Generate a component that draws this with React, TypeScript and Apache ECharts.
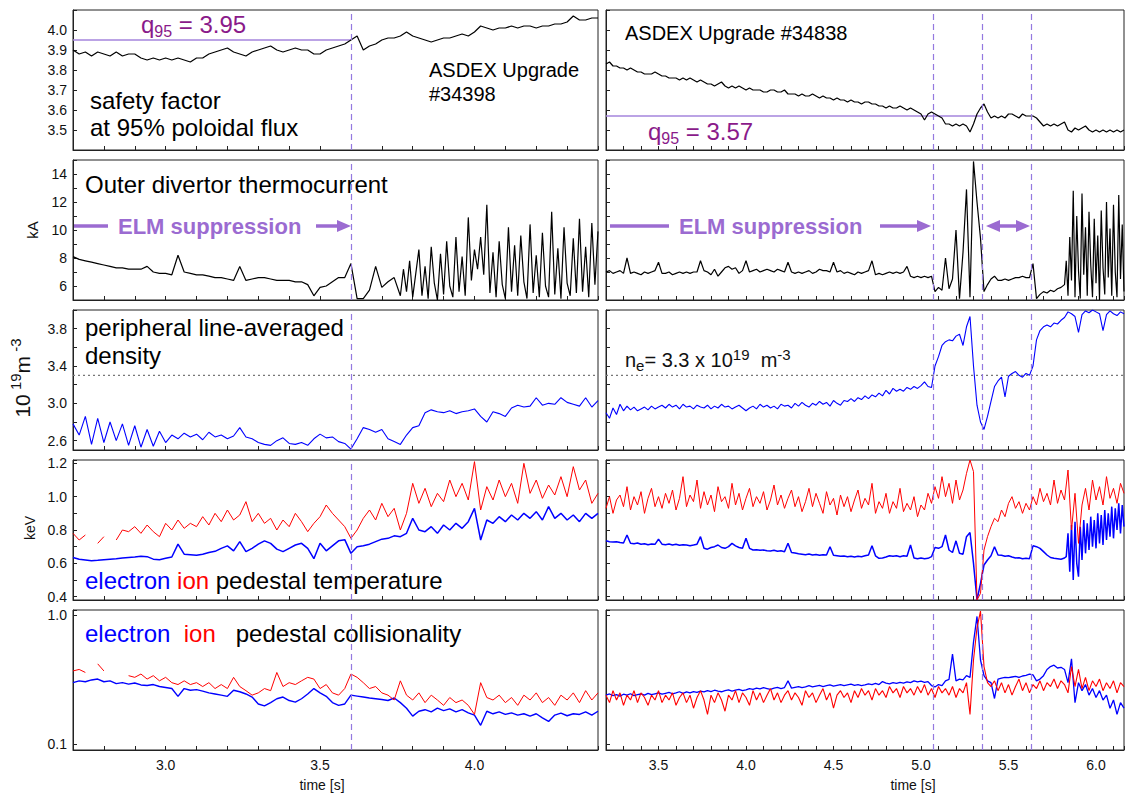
import { useEffect, useRef } from "react";
import * as echarts from "echarts";

// ---------- sampling grids (s) ----------
const T_L0 = 2.7;
const T_R0 = 3.2;
const DT = 0.02;
const DT_FINE = 0.01;
const T_ELM_L0 = 3.76; // start of dense (ELMy) sampling, left
const T_ELM_R0 = 5.83; // start of dense (ELMy) sampling, right
const X_RANGE_L = [2.7, 4.4];
const X_RANGE_R = [3.2, 6.16];
const VLINES_L = [3.6];
const VLINES_R = [5.065, 5.35, 5.63];

// ---------- row 1: q95 ----------
const q95L = [
  3.90, 3.88, 3.89, 3.87, 3.89, 3.88, 3.87, 3.89, 3.87, 3.88,
  3.88, 3.86, 3.85, 3.86, 3.85, 3.86, 3.85, 3.86, 3.85, 3.84,
  3.86, 3.86, 3.88, 3.89, 3.90, 3.91, 3.89, 3.88, 3.87, 3.89,
  3.90, 3.91, 3.92, 3.90, 3.89, 3.90, 3.91, 3.90, 3.90, 3.88,
  3.88, 3.90, 3.91, 3.92, 3.93, 3.95, 3.97, 3.90, 3.92, 3.93,
  3.95, 3.96, 3.96, 3.97, 3.99, 3.97, 3.96, 3.95, 3.94, 3.95,
  3.96, 3.96, 3.97, 3.98, 3.97, 3.99, 4.02, 4.01, 4.00, 4.01,
  4.01, 4.02, 4.01, 4.02, 4.02, 4.01, 4.02, 4.02, 4.03, 4.03,
  4.04, 4.07, 4.05, 4.05, 4.06, 4.06,
];
const q95R = [
  3.83, 3.84, 3.82, 3.82, 3.81, 3.81, 3.80, 3.81, 3.80, 3.79,
  3.79, 3.78, 3.78, 3.78, 3.79, 3.78, 3.77, 3.77, 3.76, 3.76,
  3.76, 3.75, 3.76, 3.75, 3.76, 3.75, 3.74, 3.75, 3.74, 3.73,
  3.73, 3.72, 3.73, 3.74, 3.72, 3.71, 3.72, 3.71, 3.72, 3.71,
  3.70, 3.71, 3.70, 3.70, 3.70, 3.69, 3.69, 3.70, 3.70, 3.69,
  3.69, 3.70, 3.68, 3.68, 3.68, 3.67, 3.68, 3.67, 3.67, 3.68,
  3.67, 3.66, 3.67, 3.66, 3.66, 3.65, 3.66, 3.65, 3.65, 3.64,
  3.65, 3.64, 3.64, 3.63, 3.64, 3.64, 3.63, 3.63, 3.62, 3.62,
  3.61, 3.62, 3.61, 3.61, 3.62, 3.61, 3.60, 3.61, 3.60, 3.59,
  3.58, 3.55, 3.58, 3.59, 3.58, 3.57, 3.56, 3.53, 3.53, 3.52,
  3.53, 3.52, 3.53, 3.52, 3.49, 3.53, 3.58, 3.61, 3.63, 3.59,
  3.56, 3.57, 3.56, 3.57, 3.56, 3.58, 3.58, 3.57, 3.56, 3.58,
  3.57, 3.57, 3.57, 3.56, 3.54, 3.52, 3.53, 3.52, 3.53, 3.52,
  3.53, 3.54, 3.50, 3.49, 3.51, 3.50, 3.51, 3.52, 3.50, 3.49,
  3.50, 3.49, 3.50, 3.49, 3.50, 3.49, 3.50, 3.49, 3.50,
];
const Q95_LEVEL_L = 3.95;
const Q95_LEVEL_R = 3.57;
const Q95_END_L = 3.6;
const Q95_END_R = 5.35;

// ---------- row 2: outer divertor thermocurrent (kA) ----------
// left: 2.70..3.74 every 0.02, then 3.76..4.40 every 0.01
const itL = [
  8.1, 7.9, 7.8, 7.7, 7.6, 7.5, 7.4, 7.3, 7.3, 7.2,
  7.2, 7.2, 7.4, 7.0, 6.9, 6.9, 6.8, 8.2, 7.0, 6.9,
  6.8, 6.8, 6.7, 6.6, 6.6, 6.5, 6.4, 7.4, 6.4, 6.5,
  6.6, 6.6, 6.5, 6.4, 6.4, 6.4, 6.3, 6.3, 6.1, 5.3,
  5.9, 6.0, 6.3, 6.6, 6.6, 7.6, 5.1, 5.1, 5.7, 7.4,
  5.9, 6.3, 6.6,
];
const itLElm = [
  5.3, 7.2, 5.6, 7.8, 5.2, 6.9, 8.6, 5.3, 7.4, 5.1,
  8.8, 6.2, 5.0, 8.3, 5.4, 9.2, 6.0, 5.2, 9.5, 5.6,
  8.1, 5.3, 10.9, 6.4, 8.6, 7.2, 9.5, 6.8, 11.8, 5.5,
  8.4, 5.2, 9.2, 6.1, 5.1, 10.2, 5.6, 8.9, 5.3, 9.6,
  6.3, 5.1, 10.4, 5.5, 8.2, 5.2, 9.8, 6.0, 5.2, 11.3,
  5.4, 8.7, 5.1, 10.2, 6.2, 5.3, 9.4, 5.5, 10.8, 5.6,
  8.8, 5.2, 10.5, 6.1, 9.9,
];
// right: 3.20..5.82 every 0.02, then 5.83..6.16 every 0.01
const itR = [
  7.0, 7.1, 6.9, 7.0, 7.1, 6.9, 8.0, 6.9, 7.0, 6.9,
  6.8, 7.0, 6.9, 7.0, 7.1, 7.7, 6.9, 6.9, 7.0, 6.8,
  6.9, 7.0, 6.9, 7.0, 6.9, 7.0, 7.0, 7.8, 7.1, 7.0,
  6.8, 7.2, 6.7, 7.0, 7.3, 7.4, 7.2, 7.3, 6.9, 7.1,
  7.8, 7.0, 7.1, 7.2, 7.0, 7.1, 7.2, 7.1, 7.0, 7.2,
  7.1, 7.0, 7.7, 7.0, 6.9, 7.0, 6.9, 7.0, 7.1, 6.9,
  7.0, 7.2, 7.1, 7.1, 7.0, 7.7, 7.0, 7.1, 6.9, 7.0,
  6.9, 6.8, 7.0, 6.9, 7.0, 7.1, 7.8, 6.8, 6.9, 6.8,
  6.9, 7.0, 6.9, 7.0, 6.9, 7.0, 7.4, 6.7, 6.6, 6.7,
  6.6, 6.7, 6.6, 6.7, 5.6, 5.9, 5.7, 8.0, 5.8, 6.5,
  10.0, 5.1, 8.4, 12.9, 5.2, 14.9, 12.0, 9.4, 5.6, 6.1,
  6.5, 6.7, 6.4, 6.4, 6.5, 6.4, 6.5, 6.6, 6.6, 6.7,
  6.6, 6.6, 7.6, 5.1, 5.4, 5.6, 5.5, 5.7, 5.6, 5.8,
  5.9, 6.1,
];
const itRElm = [
  7.8, 5.3, 9.5, 6.4, 12.8, 5.2, 11.0, 7.1, 5.1, 12.6,
  6.8, 10.2, 5.3, 11.3, 7.5, 5.2, 10.8, 6.2, 9.6, 5.0,
  11.4, 7.3, 5.4, 12.0, 6.6, 10.1, 5.3, 11.8, 7.0, 5.2,
  12.5, 6.5, 10.4, 5.6,
];

// ---------- row 3: peripheral line-averaged density (1e19 m^-3) ----------
const denL = [
  2.78, 2.66, 2.86, 2.56, 2.84, 2.58, 2.80, 2.60, 2.78, 2.55,
  2.76, 2.53, 2.72, 2.54, 2.70, 2.58, 2.66, 2.62, 2.68, 2.64,
  2.67, 2.61, 2.69, 2.64, 2.66, 2.62, 2.65, 2.74, 2.64, 2.62,
  2.58, 2.56, 2.55, 2.60, 2.63, 2.57, 2.56, 2.58, 2.55, 2.62,
  2.67, 2.63, 2.64, 2.59, 2.57, 2.51, 2.62, 2.74, 2.72, 2.69,
  2.72, 2.62, 2.59, 2.56, 2.66, 2.74, 2.76, 2.90, 2.93, 2.91,
  2.90, 2.92, 2.89, 2.91, 2.92, 2.94, 2.86, 2.80, 2.91, 2.89,
  2.86, 2.95, 2.98, 2.96, 2.97, 3.06, 2.98, 3.00, 2.99, 3.06,
  3.01, 2.99, 2.97, 3.06, 2.96, 3.03,
];
const denR = [
  2.90, 2.84, 2.95, 2.88, 2.99, 2.92, 2.97, 2.93, 2.96, 2.92,
  2.94, 2.96, 2.93, 2.97, 2.94, 2.96, 2.98, 2.95, 2.99, 2.96,
  2.98, 2.94, 2.99, 2.96, 2.97, 2.94, 2.98, 2.96, 2.95, 2.98,
  2.94, 2.97, 2.95, 2.99, 2.96, 2.97, 2.94, 2.96, 2.98, 2.95,
  2.92, 2.95, 2.97, 2.94, 2.99, 2.96, 2.98, 2.95, 2.97, 2.94,
  2.99, 2.97, 2.98, 2.95, 3.00, 2.97, 3.01, 2.98, 2.96, 3.00,
  2.98, 3.02, 2.99, 3.01, 2.97, 3.03, 3.00, 2.98, 3.03, 3.02,
  3.05, 3.02, 3.06, 3.04, 3.08, 3.05, 3.09, 3.07, 3.11, 3.08,
  3.14, 3.10, 3.16, 3.13, 3.15, 3.13, 3.17, 3.15, 3.18, 3.16,
  3.19, 3.23, 3.18, 3.17, 3.40, 3.50, 3.62, 3.66, 3.68, 3.67,
  3.72, 3.74, 3.62, 3.82, 3.93, 3.40, 2.98, 2.80, 2.72, 2.86,
  3.02, 3.18, 3.24, 3.28, 3.07, 3.29, 3.32, 3.34, 3.30, 3.28,
  3.32, 3.30, 3.40, 3.68, 3.78, 3.82, 3.84, 3.82, 3.86, 3.85,
  3.89, 3.92, 3.98, 3.96, 3.93, 3.76, 3.95, 3.99, 3.97, 4.00,
  3.98, 3.96, 3.78, 3.95, 3.99, 3.96, 3.94, 3.98, 3.96,
];
const NE_LEVEL = 3.3;

// ---------- row 4: pedestal temperature (keV) ----------
const teL = [
  0.635, 0.625, 0.62, 0.615, 0.618, 0.622, 0.625, 0.628, 0.632, 0.635,
  0.638, 0.642, 0.64, 0.625, 0.622, 0.63, 0.638, 0.715, 0.655, 0.652,
  0.648, 0.655, 0.665, 0.672, 0.69, 0.705, 0.675, 0.73, 0.67, 0.69,
  0.715, 0.735, 0.72, 0.685, 0.67, 0.69, 0.71, 0.72, 0.69, 0.628,
  0.72, 0.675, 0.705, 0.735, 0.742, 0.66, 0.70, 0.705, 0.715, 0.73,
  0.745, 0.75, 0.765, 0.76, 0.78, 0.87, 0.80, 0.79, 0.82, 0.78,
  0.83, 0.80, 0.84, 0.81, 0.85, 0.93, 0.74, 0.86, 0.84, 0.88,
  0.85, 0.89, 0.86, 0.90, 0.87, 0.91, 0.86, 0.94, 0.87, 0.90,
  0.86, 0.89, 0.85, 0.90, 0.87, 0.90,
];
const tiL = [
  0.78, 0.74, 0.77, null, 0.72, 0.76, null, 0.74, 0.80, 0.79,
  0.82, 0.78, 0.83, 0.79, 0.76, 0.84, 0.80, 0.86, 0.81, 0.84,
  0.82, 0.88, 0.83, 0.90, 0.85, 0.92, 0.86, 0.89, 0.97, 0.85,
  0.90, 0.84, 0.87, 0.80, 0.86, 0.82, 0.90, 0.85, 0.79, 0.84,
  0.88, 0.95, 0.90, 0.86, 0.82, 0.75, 0.80, 0.87, 0.92, 0.86,
  0.96, 0.88, 0.93, 0.80, 0.90, 1.08, 0.96, 1.05, 0.94, 1.02,
  0.97, 1.10, 1.00, 1.08, 0.98, 1.21, 0.92, 1.06, 0.98, 1.10,
  1.00, 1.08, 0.96, 1.20, 1.02, 1.10, 0.99, 1.07, 1.01, 1.12,
  1.00, 1.18, 1.04, 1.10, 0.96, 1.02,
];
// right electron: 3.20..5.82 every 0.02, then 5.83..6.16 every 0.01
const teR = [
  0.735, 0.73, 0.728, 0.73, 0.725, 0.722, 0.77, 0.72, 0.718, 0.722,
  0.715, 0.718, 0.712, 0.716, 0.714, 0.745, 0.715, 0.712, 0.716, 0.71,
  0.714, 0.708, 0.712, 0.71, 0.706, 0.71, 0.715, 0.76, 0.69, 0.685,
  0.695, 0.70, 0.71, 0.695, 0.69, 0.70, 0.72, 0.705, 0.695, 0.69,
  0.75, 0.69, 0.68, 0.682, 0.678, 0.68, 0.676, 0.674, 0.678, 0.672,
  0.675, 0.67, 0.72, 0.665, 0.662, 0.658, 0.655, 0.652, 0.656, 0.65,
  0.653, 0.648, 0.652, 0.65, 0.70, 0.648, 0.645, 0.642, 0.644, 0.64,
  0.643, 0.638, 0.642, 0.64, 0.645, 0.65, 0.705, 0.645, 0.63, 0.632,
  0.638, 0.645, 0.642, 0.646, 0.64, 0.645, 0.642, 0.71, 0.632, 0.628,
  0.632, 0.628, 0.63, 0.64, 0.695, 0.69, 0.70, 0.77, 0.68, 0.665,
  0.735, 0.66, 0.655, 0.76, 0.785, 0.60, 0.38, 0.48, 0.59, 0.62,
  0.645, 0.70, 0.65, 0.648, 0.642, 0.645, 0.638, 0.632, 0.634, 0.628,
  0.63, 0.628, 0.705, 0.70, 0.69, 0.67, 0.65, 0.635, 0.63, 0.628,
  0.625, 0.632,
];
const teRElm = [
  0.64, 0.78, 0.55, 0.83, 0.50, 0.85, 0.60, 0.52, 0.82, 0.62,
  0.86, 0.66, 0.84, 0.68, 0.88, 0.70, 0.86, 0.69, 0.90, 0.72,
  0.89, 0.71, 0.92, 0.74, 0.90, 0.76, 0.94, 0.75, 0.93, 0.80,
  0.96, 0.78, 0.95, 0.82,
];
const tiR = [
  0.93, 1.00, 0.90, 0.98, 1.01, 0.94, 1.06, 0.92, 1.00, 0.95,
  1.03, 0.90, 0.99, 1.05, 0.94, 1.00, 0.93, 1.02, 0.96, 1.04,
  0.92, 0.99, 1.12, 0.94, 1.01, 0.97, 1.10, 0.93, 1.03, 0.95,
  1.01, 0.91, 1.06, 0.97, 1.00, 0.93, 1.08, 0.95, 1.02, 0.92,
  0.99, 1.05, 0.94, 1.00, 0.96, 1.03, 0.92, 0.98, 1.07, 0.95,
  1.01, 0.93, 0.99, 1.04, 0.94, 1.00, 0.91, 0.97, 1.05, 0.94,
  1.02, 0.96, 0.90, 1.03, 0.95, 0.99, 0.89, 1.01, 0.94, 1.00,
  0.91, 0.98, 1.04, 0.93, 0.99, 0.95, 1.08, 0.90, 0.97, 0.93,
  1.02, 0.90, 0.97, 0.93, 1.05, 0.91, 0.96, 0.92, 1.00, 0.88,
  0.95, 0.92, 1.02, 0.96, 1.06, 0.99, 1.12, 1.00, 1.08, 0.96,
  1.10, 0.98, 1.04, 1.14, 1.22, 1.15, 0.38, 0.42, 0.68, 0.76,
  0.82, 0.87, 0.85, 0.92, 0.88, 0.96, 1.00, 0.93, 0.97, 0.90,
  0.96, 0.92, 1.00, 0.95, 1.05, 0.97, 1.02, 0.95, 1.10, 0.96,
  1.04, 0.98, 1.16, 0.80, 1.02, 0.72, 0.95, 1.05, 0.92, 1.10,
  0.98, 1.06, 0.95, 1.12, 0.99, 1.05, 0.96, 1.08, 1.02,
];

// ---------- row 5: pedestal collisionality ----------
const nueL = [
  0.30, 0.31, 0.305, 0.315, 0.32, 0.305, 0.31, 0.295, 0.30, 0.292,
  0.298, 0.288, 0.285, 0.29, 0.28, 0.275, 0.27, 0.235, 0.27, 0.262,
  0.265, 0.258, 0.25, 0.245, 0.24, 0.235, 0.262, 0.255, 0.245, 0.232,
  0.205, 0.198, 0.21, 0.225, 0.232, 0.218, 0.212, 0.225, 0.245, 0.27,
  0.25, 0.235, 0.21, 0.20, 0.205, 0.24, 0.236, 0.232, 0.228, 0.225,
  0.222, 0.218, 0.228, 0.21, 0.19, 0.165, 0.18, 0.185, 0.178, 0.19,
  0.182, 0.188, 0.178, 0.185, 0.175, 0.168, 0.14, 0.18, 0.172, 0.178,
  0.17, 0.175, 0.168, 0.172, 0.165, 0.172, 0.16, 0.15, 0.168, 0.174,
  0.166, 0.172, 0.17, 0.178, 0.168, 0.18,
];
const nuiL = [
  0.37, 0.38, 0.36, null, 0.42, 0.37, null, 0.35, null, 0.34,
  0.33, 0.35, 0.32, 0.34, 0.31, 0.33, 0.30, 0.29, 0.31, 0.29,
  0.30, 0.28, 0.30, 0.27, 0.29, 0.27, 0.33, 0.28, 0.26, 0.24,
  0.25, 0.27, 0.26, 0.36, 0.28, 0.30, 0.29, 0.31, 0.33, 0.32,
  0.27, 0.29, 0.25, 0.24, 0.27, 0.35, 0.33, 0.30, 0.27, 0.28,
  0.25, 0.24, 0.22, 0.31, 0.24, 0.22, 0.25, 0.21, 0.24, 0.22,
  0.20, 0.23, 0.21, 0.22, 0.20, 0.17, 0.30, 0.23, 0.22, 0.24,
  0.21, 0.23, 0.20, 0.24, 0.22, 0.25, 0.21, 0.23, 0.20, 0.24,
  0.22, 0.25, 0.21, 0.26, 0.22, 0.25,
];
const nueR = [
  0.24, 0.245, 0.238, 0.242, 0.236, 0.244, 0.24, 0.246, 0.238, 0.242,
  0.245, 0.24, 0.248, 0.242, 0.246, 0.25, 0.244, 0.248, 0.252, 0.246,
  0.25, 0.255, 0.248, 0.254, 0.25, 0.256, 0.252, 0.258, 0.254, 0.26,
  0.256, 0.262, 0.258, 0.255, 0.26, 0.264, 0.258, 0.262, 0.266, 0.26,
  0.264, 0.27, 0.266, 0.272, 0.268, 0.274, 0.27, 0.266, 0.272, 0.276,
  0.27, 0.275, 0.31, 0.272, 0.276, 0.28, 0.274, 0.278, 0.284, 0.278,
  0.282, 0.286, 0.28, 0.284, 0.288, 0.282, 0.286, 0.29, 0.284, 0.288,
  0.292, 0.286, 0.29, 0.285, 0.288, 0.294, 0.29, 0.296, 0.29, 0.306,
  0.298, 0.294, 0.30, 0.296, 0.302, 0.298, 0.304, 0.30, 0.31, 0.304,
  0.308, 0.302, 0.306, 0.285, 0.278, 0.29, 0.285, 0.31, 0.318, 0.50,
  0.31, 0.32, 0.315, 0.34, 0.33, 0.62, 0.98, 0.45, 0.34, 0.31,
  0.30, 0.226, 0.32, 0.325, 0.33, 0.328, 0.332, 0.336, 0.33, 0.338,
  0.342, 0.35, 0.345, 0.31, 0.32, 0.34, 0.38, 0.40, 0.41, 0.39,
  0.395, 0.38, 0.30, 0.46, 0.21, 0.30, 0.26, 0.29, 0.24, 0.27,
  0.23, 0.26, 0.22, 0.24, 0.19, 0.22, 0.17, 0.21, 0.19,
];
const nuiR = [
  0.24, 0.21, 0.26, 0.22, 0.25, 0.20, 0.24, 0.22, 0.26, 0.21,
  0.25, 0.23, 0.20, 0.24, 0.22, 0.26, 0.21, 0.24, 0.22, 0.25,
  0.20, 0.23, 0.25, 0.21, 0.24, 0.19, 0.23, 0.26, 0.22, 0.17,
  0.24, 0.21, 0.25, 0.22, 0.18, 0.24, 0.22, 0.26, 0.21, 0.25,
  0.23, 0.20, 0.26, 0.22, 0.25, 0.21, 0.24, 0.27, 0.22, 0.25,
  0.21, 0.24, 0.26, 0.22, 0.25, 0.23, 0.20, 0.26, 0.23, 0.25,
  0.21, 0.24, 0.27, 0.22, 0.25, 0.19, 0.24, 0.26, 0.23, 0.25,
  0.21, 0.26, 0.23, 0.27, 0.24, 0.26, 0.22, 0.27, 0.24, 0.26,
  0.23, 0.28, 0.25, 0.27, 0.23, 0.28, 0.25, 0.27, 0.24, 0.28,
  0.25, 0.29, 0.24, 0.27, 0.23, 0.28, 0.25, 0.27, 0.24, 0.28,
  0.23, 0.27, 0.25, 0.30, 0.17, 0.45, 0.80, 1.08, 0.40, 0.30,
  0.28, 0.31, 0.26, 0.30, 0.25, 0.29, 0.24, 0.28, 0.32, 0.26,
  0.30, 0.25, 0.29, 0.27, 0.31, 0.26, 0.30, 0.28, 0.32, 0.27,
  0.31, 0.29, 0.25, 0.40, 0.28, 0.38, 0.27, 0.33, 0.26, 0.31,
  0.28, 0.32, 0.26, 0.30, 0.27, 0.31, 0.25, 0.30, 0.28,
];

const times = (t0: number, dt: number, n: number) =>
  Array.from({ length: n }, (_, i) => Math.round((t0 + dt * i) * 1000) / 1000);
const tL = times(T_L0, DT, q95L.length);
const tR = times(T_R0, DT, q95R.length);
const pair = (t: number[], v: (number | null)[]) => t.map((x, i) => [x, v[i] == null ? null : v[i]]);
const split = (t0: number, a: number[], tf: number, b: number[]) =>
  pair(times(t0, DT, a.length), a).concat(pair(times(tf, DT_FINE, b.length), b));

const FONT = '"Liberation Sans", Arial, Helvetica, sans-serif';
const BLUE = "#0000ff";
const RED = "#ff0000";
const BLACK = "#000000";
const DASH_COLOR = "#9479e0";
const ELM_COLOR = "#9b6bd1";
const Q_COLOR = "#8a1a8a";
const QLINE_COLOR = "#a584dc";

const COLS = [
  { left: 73, width: 525, range: X_RANGE_L, vlines: VLINES_L },
  { left: 606, width: 518, range: X_RANGE_R, vlines: VLINES_R },
];
const ROW_TOP = [10, 160, 310, 460, 610];
const ROW_H = 140;

const near = (v: number, list: number[]) => list.some((x) => Math.abs(x - v) < 1e-4);

const Y_CFG: any[] = [
  { min: 3.4, max: 4.1, interval: 0.1, fmt: (v: number) => (v > 3.45 && v < 4.05 ? v.toFixed(1) : "") },
  { min: 5, max: 15, interval: 1, fmt: (v: number) => (near(v, [6, 8, 10, 12, 14]) ? String(Math.round(v)) : "") },
  { min: 2.5, max: 4.0, splitNumber: 7, fmt: (v: number) => (near(v, [2.6, 3.0, 3.4, 3.8]) ? v.toFixed(1) : "") },
  { min: 0.38, max: 1.22, splitNumber: 8, fmt: (v: number) => (near(v, [0.4, 0.6, 0.8, 1.0, 1.2]) ? v.toFixed(1) : "") },
  { type: "log", min: 0.09, max: 1.1, fmt: (v: number) => (near(v, [0.1]) ? "0.1" : near(v, [1]) ? "1.0" : "") },
];

function buildOption() {
  const grid: any[] = [];
  const xAxis: any[] = [];
  const yAxis: any[] = [];
  for (let r = 0; r < 5; r++) {
    for (let c = 0; c < 2; c++) {
      const g = r * 2 + c;
      const col = COLS[c];
      grid.push({
        left: col.left,
        top: ROW_TOP[r],
        width: col.width,
        height: ROW_H,
        show: true,
        borderColor: "#222",
        borderWidth: 1,
        backgroundColor: "transparent",
        containLabel: false,
        outerBoundsMode: "none",
      });
      xAxis.push({
        type: "value",
        gridIndex: g,
        min: col.range[0],
        max: col.range[1],
        interval: 0.1,
        axisLine: { show: true, onZero: false, lineStyle: { color: "#222", width: 1 } },
        axisTick: { show: true, inside: true, length: 4, lineStyle: { color: "#222" } },
        splitLine: { show: false },
        axisLabel: {
          show: r === 4,
          fontSize: 14,
          fontFamily: FONT,
          color: "#111",
          margin: 8,
          formatter: (v: number) => {
            const k = Math.round(v * 10);
            return Math.abs(v * 10 - k) < 1e-4 && k % 5 === 0 ? (k / 10).toFixed(1) : "";
          },
        },
      });
      const yc = Y_CFG[r];
      const ya: any = {
        type: yc.type || "value",
        gridIndex: g,
        min: yc.min,
        max: yc.max,
        axisLine: { show: true, onZero: false, lineStyle: { color: "#222", width: 1 } },
        axisTick: { show: true, inside: true, length: 4, lineStyle: { color: "#222" } },
        splitLine: { show: false },
        axisLabel: {
          show: c === 0,
          fontSize: 14,
          fontFamily: FONT,
          color: "#111",
          margin: 6,
          formatter: yc.fmt,
        },
      };
      if (yc.interval) ya.interval = yc.interval;
      if (yc.splitNumber) ya.splitNumber = yc.splitNumber;
      if (yc.type === "log") ya.logBase = 10;
      yAxis.push(ya);
    }
  }

  const series: any[] = [];
  const line = (g: number, data: any[], color: string, width = 1, extra: any = {}) => {
    series.push({
      type: "line",
      xAxisIndex: g,
      yAxisIndex: g,
      data,
      showSymbol: false,
      symbol: "none",
      connectNulls: false,
      silent: true,
      lineStyle: { color, width },
      itemStyle: { color },
      ...extra,
    });
  };
  const vmark = (vals: number[]) => ({
    silent: true,
    symbol: ["none", "none"],
    label: { show: false },
    lineStyle: { type: [6, 4], color: DASH_COLOR, width: 1.2 },
    data: vals.map((x) => ({ xAxis: x })),
  });

  // row 1
  line(0, [[X_RANGE_L[0], Q95_LEVEL_L], [Q95_END_L, Q95_LEVEL_L]], QLINE_COLOR, 1.3);
  line(0, pair(tL, q95L), BLACK, 1.2, { markLine: vmark(VLINES_L) });
  line(1, [[X_RANGE_R[0], Q95_LEVEL_R], [Q95_END_R, Q95_LEVEL_R]], QLINE_COLOR, 1.3);
  line(1, pair(tR, q95R), BLACK, 1.2, { markLine: vmark(VLINES_R) });
  // row 2
  line(2, split(T_L0, itL, T_ELM_L0, itLElm), BLACK, 1.2, { markLine: vmark(VLINES_L) });
  line(3, split(T_R0, itR, T_ELM_R0, itRElm), BLACK, 1.2, { markLine: vmark(VLINES_R) });
  // row 3
  line(4, [[X_RANGE_L[0], NE_LEVEL], [X_RANGE_L[1], NE_LEVEL]], "#777", 1.2, { lineStyle: { color: "#777", width: 1.2, type: [2, 3] } });
  line(4, pair(tL, denL), BLUE, 1.1, { markLine: vmark(VLINES_L) });
  line(5, [[X_RANGE_R[0], NE_LEVEL], [X_RANGE_R[1], NE_LEVEL]], "#777", 1.2, { lineStyle: { color: "#777", width: 1.2, type: [2, 3] } });
  line(5, pair(tR, denR), BLUE, 1.1, { markLine: vmark(VLINES_R) });
  // row 4
  line(6, pair(tL, teL), BLUE, 1.5, { markLine: vmark(VLINES_L) });
  line(6, pair(tL, tiL), RED, 1);
  line(7, split(T_R0, teR, T_ELM_R0, teRElm), BLUE, 1.5, { markLine: vmark(VLINES_R) });
  line(7, pair(tR, tiR), RED, 1);
  // row 5
  line(8, pair(tL, nueL), BLUE, 1.4, { markLine: vmark(VLINES_L) });
  line(8, pair(tL, nuiL), RED, 1);
  line(9, pair(tR, nueR), BLUE, 1.3, { markLine: vmark(VLINES_R) });
  line(9, pair(tR, nuiR), RED, 1.1);

  const txt = (x: number, y: number, text: string, size = 24, fill = "#000", extra: any = {}) => ({
    type: "text",
    x,
    y,
    silent: true,
    style: { text, fontSize: size, fontFamily: FONT, fill, verticalAlign: "middle", align: "left", ...extra },
  });
  const richQ = (x: number, y: number, val: string) => ({
    type: "text",
    x,
    y,
    silent: true,
    style: {
      text: `{m|q}{s|95}{m| = ${val}}`,
      fontFamily: FONT,
      verticalAlign: "middle",
      rich: {
        m: { fontSize: 24, fontFamily: FONT, fill: Q_COLOR, lineHeight: 30 },
        s: { fontSize: 16, fontFamily: FONT, fill: Q_COLOR, lineHeight: 12, verticalAlign: "bottom" },
      },
    },
  });
  const hbar = (x1: number, x2: number, y: number) => ({
    type: "line",
    silent: true,
    shape: { x1, y1: y, x2, y2: y },
    style: { stroke: ELM_COLOR, lineWidth: 3.5 },
  });
  const head = (tipX: number, y: number, dir: number) => ({
    type: "polygon",
    silent: true,
    shape: { points: [[tipX, y], [tipX - dir * 14, y - 6], [tipX - dir * 14, y + 6]] },
    style: { fill: ELM_COLOR },
  });
  const ELM_Y = 226;

  const graphic: any[] = [
    richQ(141, 24, "3.95"),
    txt(90, 100, "safety factor"),
    txt(90, 127, "at 95% poloidal flux"),
    txt(429, 70, "ASDEX Upgrade", 20),
    txt(429, 94, "#34398", 20),
    txt(625, 33, "ASDEX Upgrade #34838", 20),
    richQ(648, 131, "3.57"),
    txt(85, 184, "Outer divertor thermocurrent"),
    // ELM suppression (left)
    hbar(74, 108, ELM_Y),
    txt(118, ELM_Y, "ELM suppression", 22, ELM_COLOR, { fontWeight: "bold" }),
    hbar(316, 340, ELM_Y),
    head(351, ELM_Y, 1),
    // ELM suppression (right)
    hbar(610, 669, ELM_Y),
    txt(679, ELM_Y, "ELM suppression", 22, ELM_COLOR, { fontWeight: "bold" }),
    hbar(880, 920, ELM_Y),
    head(931, ELM_Y, 1),
    hbar(996, 1020, ELM_Y),
    head(986, ELM_Y, -1),
    head(1030, ELM_Y, 1),
    txt(85, 327, "peripheral line-averaged"),
    txt(85, 355, "density"),
    {
      type: "text",
      x: 625,
      y: 360,
      silent: true,
      style: {
        text: "{m|n}{b|e}{m|= 3.3 x 10}{t|19}{m|  m}{t|-3}",
        fontFamily: FONT,
        verticalAlign: "middle",
        rich: {
          m: { fontSize: 20, fontFamily: FONT, fill: "#111", lineHeight: 26 },
          b: { fontSize: 15, fontFamily: FONT, fill: "#111", lineHeight: 12, verticalAlign: "bottom" },
          t: { fontSize: 15, fontFamily: FONT, fill: "#111", lineHeight: 15, verticalAlign: "top" },
        },
      },
    },
    {
      type: "text",
      x: 85,
      y: 580,
      silent: true,
      style: {
        text: "{b|electron} {r|ion} {k|pedestal temperature}",
        fontFamily: FONT,
        fontSize: 24,
        verticalAlign: "middle",
        rich: {
          b: { fontSize: 24, fontFamily: FONT, fill: BLUE },
          r: { fontSize: 24, fontFamily: FONT, fill: RED },
          k: { fontSize: 24, fontFamily: FONT, fill: "#000" },
        },
      },
    },
    {
      type: "text",
      x: 85,
      y: 633,
      silent: true,
      style: {
        text: "{b|electron}  {r|ion}   {k|pedestal collisionality}",
        fontFamily: FONT,
        fontSize: 24,
        verticalAlign: "middle",
        rich: {
          b: { fontSize: 24, fontFamily: FONT, fill: BLUE },
          r: { fontSize: 24, fontFamily: FONT, fill: RED },
          k: { fontSize: 24, fontFamily: FONT, fill: "#000" },
        },
      },
    },
    // axis names
    {
      type: "text",
      x: 32,
      y: 230,
      rotation: Math.PI / 2,
      silent: true,
      style: { text: "kA", fontSize: 15, fontFamily: FONT, fill: "#111", align: "center", verticalAlign: "middle" },
    },
    {
      type: "text",
      x: 22,
      y: 378,
      rotation: Math.PI / 2,
      silent: true,
      style: {
        text: "{m|10}{t| 19}{m|m}{t| -3}",
        fontFamily: FONT,
        align: "center",
        verticalAlign: "middle",
        rich: {
          m: { fontSize: 21, fontFamily: FONT, fill: "#111", lineHeight: 28 },
          t: { fontSize: 15, fontFamily: FONT, fill: "#111", lineHeight: 15, verticalAlign: "top" },
        },
      },
    },
    {
      type: "text",
      x: 30,
      y: 528,
      rotation: Math.PI / 2,
      silent: true,
      style: { text: "keV", fontSize: 14, fontFamily: FONT, fill: "#111", align: "center", verticalAlign: "middle" },
    },
    txt(322, 785, "time [s]", 14, "#111", { align: "center" }),
    txt(913, 785, "time [s]", 14, "#111", { align: "center" }),
  ];

  return {
    animation: false,
    backgroundColor: "#ffffff",
    textStyle: { fontFamily: FONT },
    grid,
    xAxis,
    yAxis,
    series,
    graphic,
  };
}

export default function App() {
  const ref = useRef<HTMLDivElement>(null);
  useEffect(() => {
    document.body.style.margin = "0";
    const chart = echarts.init(ref.current as HTMLDivElement, undefined, { renderer: "svg" });
    chart.setOption(buildOption() as any);
    return () => chart.dispose();
  }, []);
  return <div ref={ref} style={{ width: 1125, height: 799 }} />;
}
